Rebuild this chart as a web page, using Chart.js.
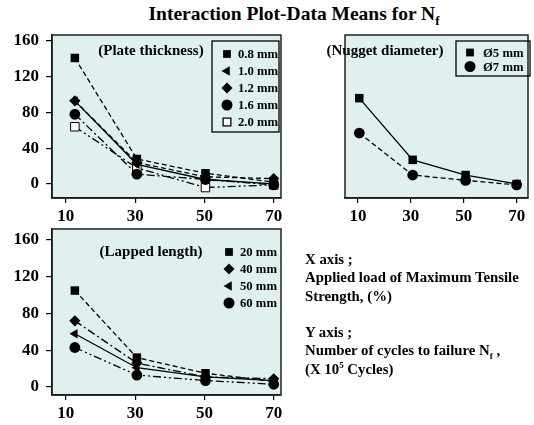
<!DOCTYPE html>
<html>
<head>
<meta charset="utf-8">
<script src="https://cdn.jsdelivr.net/npm/chart.js@4.4.0/dist/chart.umd.min.js"></script>
<style>
  body { margin: 0; background: #fff; width: 534px; height: 425px; position: relative; overflow: hidden;
         font-family: 'Liberation Serif', serif; font-weight: bold; color: #000; }
  canvas { position: absolute; }
  #title { position: absolute; left: 102px; width: 384px; top: 3px; text-align: center; font-size: 19.5px; }
  #title sub { font-size: 13px; line-height: 0; }
  #notes { position: absolute; left: 305px; top: 250px; font-size: 14.8px; line-height: 18.3px; }
  #notes sub, #notes sup { font-size: 9px; line-height: 0; }
</style>
</head>
<body>
<div id="title">Interaction Plot-Data Means for N<sub>f</sub></div>
<canvas id="plateChart" width="292" height="205" style="left:0;top:25px"></canvas>
<canvas id="nuggetChart" width="246" height="205" style="left:288px;top:25px"></canvas>
<canvas id="lappedChart" width="292" height="205" style="left:0;top:220px"></canvas>
<div id="notes">
  X axis ;<br>
  Applied load of Maximum Tensile<br>
  Strength, (%)<br>
  <br>
  Y axis ;<br>
  Number of cycles to failure N<sub>f</sub> ,<br>
  (X 10<sup>5</sup> Cycles)
</div>
<script>
// applied load (% of max tensile strength), as plotted
const xTicks = [10, 30, 50, 70];
const plateLoads = [12.6, 30.5, 50.3, 70];
const nuggetLoads = [10.5, 30.7, 50.7, 70];

// Plate thickness (X 10^5 cycles)
const plate08 = [141, 28, 12, 2];
const plate10 = [93, 22, 5, 0];
const plate12 = [93, 24, 8, 6];
const plate16 = [78, 11, 5, -1];
const plate20 = [64, 18, -4, -1];

// Nugget diameter
const nugget5 = [96, 27, 10, 0];
const nugget7 = [57, 10, 4, -1];

// Lapped length
const lapped20 = [105, 32, 15, 6];
const lapped40 = [72, 26, 11, 9];
const lapped50 = [58, 21, 11, 7];
const lapped60 = [43, 13, 7, 3];

const yTicks = [0, 40, 80, 120, 160];
const FONT = '"Liberation Serif", "Times New Roman", serif';

const dashed = [5, 3];
const dashDot = [8, 3, 2, 3];
const dashDotDot = [8, 3, 2, 3, 2, 3];
const solid = [];

function series(label, loads, values, style, dash, opts = {}) {
  return {
    label,
    data: values.map((v, i) => ({ x: loads[i], y: v })),
    borderColor: '#000',
    borderWidth: 1.3,
    borderDash: dash,
    pointStyle: style,
    pointRotation: opts.rotation || 0,
    pointRadius: opts.radius || 5.4,
    pointBackgroundColor: opts.fill || '#000',
    pointBorderColor: '#000',
    pointBorderWidth: opts.fill ? 1 : 0,
    tension: 0,
    clip: false
  };
}

const panelPlugin = {
  id: 'panel',
  beforeDraw(chart) {
    const { ctx, chartArea: a } = chart;
    ctx.save();
    ctx.fillStyle = '#dff0ef';
    ctx.fillRect(a.left, a.top, a.right - a.left, a.bottom - a.top);
    ctx.restore();
  },
  afterDraw(chart, args, o) {
    const { ctx, chartArea: a } = chart;
    ctx.save();
    ctx.strokeStyle = '#222';
    ctx.lineWidth = 1.5;
    ctx.strokeRect(a.left, a.top, a.right - a.left, a.bottom - a.top);

    ctx.fillStyle = '#000';
    ctx.textBaseline = 'middle';
    ctx.font = 'bold 15px ' + FONT;
    ctx.textAlign = 'center';
    ctx.fillText(o.heading, o.headingX, o.headingY);

    if (o.box) {
      ctx.lineWidth = 1.3;
      ctx.strokeStyle = '#000';
      ctx.strokeRect(o.box[0], o.box[1], o.box[2], o.box[3]);
    }
    ctx.font = 'bold 12.7px ' + FONT;
    ctx.textAlign = 'left';
    chart.data.datasets.forEach((ds, i) => {
      const y = o.legendY + i * o.legendStep;
      ctx.fillStyle = ds.pointBackgroundColor;
      ctx.strokeStyle = '#000';
      Chart.helpers.drawPoint(ctx, {
        pointStyle: ds.pointStyle, rotation: ds.pointRotation,
        radius: 5.5, borderWidth: ds.pointBorderWidth
      }, o.markerX, y);
      ctx.fillStyle = '#000';
      ctx.fillText(ds.label, o.textX, y + 1);
    });
    ctx.restore();
  }
};

function makeChart(id, datasets, cfg) {
  new Chart(document.getElementById(id), {
    type: 'line',
    data: { datasets },
    options: {
      responsive: false,
      animation: false,
      layout: { padding: cfg.padding },
      plugins: { legend: { display: false }, tooltip: { enabled: false }, panel: cfg.panel },
      scales: {
        x: {
          type: 'linear', min: cfg.xMin, max: cfg.xMax,
          afterBuildTicks: s => { s.ticks = xTicks.map(v => ({ value: v })); },
          afterFit: s => { s.height = cfg.xHeight; s.paddingLeft = 0; s.paddingRight = 0; },
          grid: { drawOnChartArea: false, tickLength: 5, color: '#000', lineWidth: 1.2 },
          border: { color: '#000', width: 1.5 },
          ticks: { color: '#000', padding: 3, maxRotation: 0, font: { family: FONT, size: 17, weight: 'bold' } }
        },
        y: {
          display: cfg.showY, min: cfg.yMin, max: cfg.yMax,
          afterBuildTicks: s => { s.ticks = yTicks.map(v => ({ value: v })); },
          afterFit: s => { s.width = 52; s.paddingTop = 0; s.paddingBottom = 0; },
          grid: { drawOnChartArea: false, tickLength: 6, color: '#000', lineWidth: 1.2 },
          border: { color: '#000', width: 1.5 },
          ticks: { color: '#000', padding: 7, font: { family: FONT, size: 17, weight: 'bold' } }
        }
      }
    },
    plugins: [panelPlugin]
  });
}

// Plate thickness panel (canvas at 0,25)
makeChart('plateChart', [
  series('0.8 mm', plateLoads, plate08, 'rect', dashed, { radius: 6 }),
  series('1.0 mm', plateLoads, plate10, 'triangle', solid, { rotation: -90 }),
  series('1.2 mm', plateLoads, plate12, 'rectRot', dashed, { radius: 5.6 }),
  series('1.6 mm', plateLoads, plate16, 'circle', dashDot),
  series('2.0 mm', plateLoads, plate20, 'rect', dashDotDot, { radius: 6, fill: '#fff' })
], {
  padding: { top: 10, right: 11, left: 0, bottom: 0 }, xHeight: 32, showY: true,
  xMin: 6, xMax: 72.1, yMin: -15.7, yMax: 166.7,
  panel: { heading: '(Plate thickness)', headingX: 151, headingY: 26,
           box: [212, 16, 67, 91], markerX: 227, textX: 238, legendY: 29, legendStep: 17 }
});

// Nugget diameter panel (canvas at 288,25)
makeChart('nuggetChart', [
  series('Ø5 mm', nuggetLoads, nugget5, 'rect', solid, { radius: 6 }),
  series('Ø7 mm', nuggetLoads, nugget7, 'circle', dashed)
], {
  padding: { top: 10, right: 2, left: 5, bottom: 0 }, xHeight: 32, showY: false,
  xMin: 5.1, xMax: 74.3, yMin: -15.7, yMax: 166.7,
  panel: { heading: '(Nugget diameter)', headingX: 97, headingY: 26,
           box: [168, 16, 74, 35], markerX: 182, textX: 195, legendY: 27.5, legendStep: 14 }
});

// Lapped length panel (canvas at 0,220)
makeChart('lappedChart', [
  series('20 mm', plateLoads, lapped20, 'rect', dashed, { radius: 6 }),
  series('40 mm', plateLoads, lapped40, 'rectRot', dashDot, { radius: 5.6 }),
  series('50 mm', plateLoads, lapped50, 'triangle', solid, { rotation: -90 }),
  series('60 mm', plateLoads, lapped60, 'circle', dashDotDot)
], {
  padding: { top: 9, right: 11, left: 0, bottom: 0 }, xHeight: 30, showY: true,
  xMin: 6, xMax: 72.1, yMin: -8.7, yMax: 172,
  panel: { heading: '(Lapped length)', headingX: 151, headingY: 32,
           box: null, markerX: 229, textX: 240, legendY: 32, legendStep: 17 }
});
</script>
</body>
</html>
